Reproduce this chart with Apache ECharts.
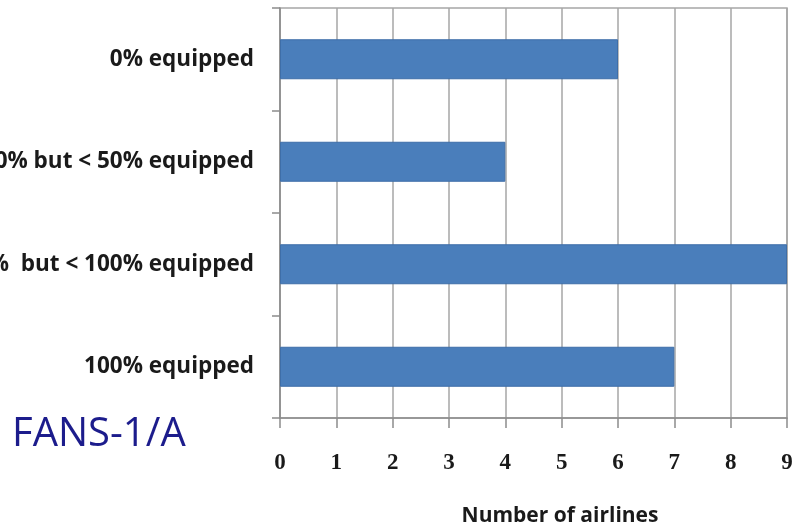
<!DOCTYPE html>
<html>
<head>
<meta charset="utf-8">
<script src="https://cdn.jsdelivr.net/npm/echarts@6/dist/echarts.min.js"></script>
<style>html,body{margin:0;padding:0;background:#fff}#c{width:798px;height:531px}</style>
</head>
<body>
<div id="c"></div>
<script>
const categories = ["0% equipped", "> 0% but < 50% equipped", "> 50%  but < 100% equipped", "100% equipped"];
const airlines = [6, 4, 9, 7];
const xTicks = [0, 9, 1];
const chartLabel = "FANS-1/A";
const xName = "Number of airlines";

const chart = echarts.init(document.getElementById('c'), null, {renderer: 'canvas'});
chart.setOption({
  backgroundColor: '#ffffff',
  animation: false,
  grid: {left: 280, right: 11, top: 8, bottom: 113, show: true, borderColor: '#a6a6a6', borderWidth: 1.5, containLabel: false, outerBoundsMode: 'none'},
  xAxis: {
    type: 'value', min: xTicks[0], max: xTicks[1], interval: xTicks[2],
    axisLine: {show: true, lineStyle: {color: '#8c8c8c', width: 1.5}},
    axisTick: {show: true, length: 10, lineStyle: {color: '#8c8c8c', width: 1.5}},
    axisLabel: {margin: 34, fontFamily: 'Liberation Serif', fontWeight: 'bold', fontSize: 23, color: '#1a1a1a'},
    splitLine: {show: true, lineStyle: {color: '#a6a6a6', width: 1.5}}
  },
  yAxis: {
    type: 'category', data: categories, inverse: true,
    axisLine: {show: true, lineStyle: {color: '#8c8c8c', width: 1.5}},
    axisTick: {show: true, length: 8, lineStyle: {color: '#8c8c8c', width: 1.5}},
    axisLabel: {margin: 26, fontFamily: 'Open Sans', fontWeight: 'bold', fontSize: 22.5, color: '#1a1a1a'},
    splitLine: {show: false}
  },
  series: [{
    type: 'bar', data: airlines, barWidth: 40,
    itemStyle: {color: '#4a7ebb', borderColor: '#3e6ea8', borderWidth: 1}
  }],
  graphic: [{
    type: 'text', left: 12, top: 415,
    style: {text: chartLabel, font: '40px "Open Sans"', fill: '#1c1c8c'}
  }, {
    type: 'text', x: 560, y: 516,
    style: {text: xName, font: 'bold 21px "Open Sans"', fill: '#1a1a1a', align: 'center', verticalAlign: 'middle'}
  }]
});
</script>
</body>
</html>
